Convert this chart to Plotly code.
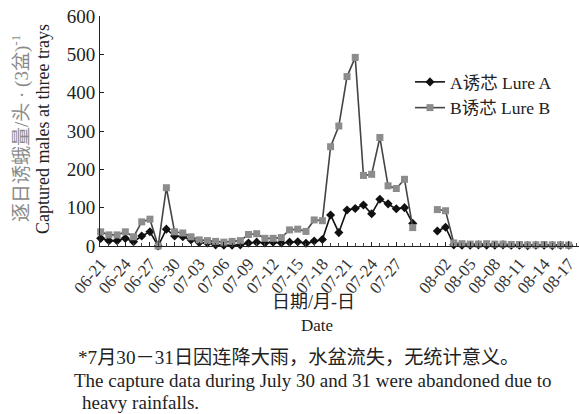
import pandas as pd
import plotly.graph_objects as go

# Daily dates (year arbitrary; only month-day shown)
dates = [d.strftime("%Y-%m-%d") for d in pd.date_range("2019-06-21", "2019-08-17", freq="D")]

# Lure A (black diamonds); None = data abandoned (07-30, 07-31)
lure_a = [20, 14, 14, 20, 11, 26, 37, 0, 44, 26,
          24, 16, 9, 8, 3, 2, 2, 3, 8, 10,
          8, 10, 8, 10, 11, 7, 13, 17, 81, 35,
          94, 98, 107, 84, 122, 110, 97, 100, 59, None,
          None, 39, 49, 3, 2, 2, 3, 2, 2, 3,
          2, 2, 1, 2, 2, 1, 2, 2]

# Lure B (gray squares)
lure_b = [37, 29, 29, 37, 24, 63, 70, 0, 152, 37,
          34, 24, 16, 14, 12, 10, 12, 14, 30, 32,
          20, 20, 22, 42, 44, 38, 68, 66, 259, 313,
          442, 492, 184, 187, 283, 157, 150, 174, 48, None,
          None, 95, 92, 8, 6, 5, 5, 6, 5, 5,
          4, 4, 3, 3, 4, 3, 3, 2]

tick_dates = ["2019-06-21", "2019-06-24", "2019-06-27", "2019-06-30", "2019-07-03",
              "2019-07-06", "2019-07-09", "2019-07-12", "2019-07-15", "2019-07-18",
              "2019-07-21", "2019-07-24", "2019-07-27", "2019-08-02", "2019-08-05",
              "2019-08-08", "2019-08-11", "2019-08-14", "2019-08-17"]
tick_text = [t[5:] for t in tick_dates]

y_ticks = [0, 100, 200, 300, 400, 500, 600]

SERIF = "Liberation Serif, Noto Sans CJK SC, serif"

fig = go.Figure()
fig.add_trace(go.Scatter(
    x=dates, y=lure_a, mode="lines+markers", name="A诱芯 Lure A",
    line=dict(color="#111111", width=1.6),
    marker=dict(symbol="diamond", size=7, color="#111111"),
    connectgaps=False, cliponaxis=False))
fig.add_trace(go.Scatter(
    x=dates, y=lure_b, mode="lines+markers", name="B诱芯 Lure B",
    line=dict(color="#444444", width=1.6),
    marker=dict(symbol="square", size=7, color="#8c8c8c"),
    connectgaps=False, cliponaxis=False))

L, T, B = 100, 16, 168
W, H = 579, 414
pw = W - L
ph = H - T - B

def px(xp):
    return (xp - L) / pw

def py(yp):
    return (H - B - yp) / ph

fig.update_layout(
    width=W, height=H,
    margin=dict(l=L, r=0, t=T, b=B),
    paper_bgcolor="white", plot_bgcolor="white",
    font=dict(family=SERIF, size=17, color="#222222"),
    showlegend=True,
    legend=dict(x=px(410), y=py(64), xanchor="left", yanchor="top",
                bgcolor="rgba(0,0,0,0)", font=dict(size=17.5, color="#222222"),
                tracegroupgap=0, itemwidth=30),
    xaxis=dict(
        type="date",
        range=["2019-06-20 22:00", "2019-08-18 06:00"],
        tickmode="array", tickvals=tick_dates, ticktext=tick_text,
        tickangle=-50, tickfont=dict(size=17, color="#333333"),
        ticks="inside", ticklen=4, tickcolor="#222222",
        minor=dict(ticks="inside", dtick=86400000, ticklen=3, tickcolor="#444444"),
        showline=True, linecolor="#222222", linewidth=1,
        showgrid=False, zeroline=False, fixedrange=True, automargin=False,
    ),
    yaxis=dict(
        range=[0, 600], tickmode="array", tickvals=y_ticks,
        tickfont=dict(size=19, color="#222222"),
        ticks="inside", ticklen=4, tickcolor="#222222",
        showline=True, linecolor="#222222", linewidth=1,
        showgrid=False, zeroline=False, fixedrange=True, automargin=False,
    ),
)

ann = [
    dict(text="逐日诱蛾量/头 · (3盆)<sup>-1</sup>", x=px(20), y=py(129), textangle=-90,
         font=dict(size=19, color="#8a8a8a")),
    dict(text="Captured males at three trays", x=px(43), y=py(129), textangle=-90,
         font=dict(size=18, color="#222222")),
    dict(text="日期/月-日", x=px(313), y=py(302), font=dict(size=18, color="#222222")),
    dict(text="Date", x=px(317), y=py(325), font=dict(size=17, color="#222222")),
    dict(text="*7月30－31日因连降大雨，水盆流失，无统计意义。", x=px(76), y=py(357),
         xanchor="left", font=dict(size=19.2, color="#222222")),
    dict(text="The capture data during July 30 and 31 were abandoned due to",
         x=px(72), y=py(380), xanchor="left", font=dict(size=19, color="#222222")),
    dict(text="heavy rainfalls.", x=px(80), y=py(402), xanchor="left",
         font=dict(size=19, color="#222222")),
]
for a in ann:
    a.setdefault("xanchor", "center")
    fig.add_annotation(xref="paper", yref="paper", yanchor="middle",
                       showarrow=False, **a)

fig.write_html("out.html", config={"displayModeBar": False},
               post_script="document.body.style.margin='0';")
